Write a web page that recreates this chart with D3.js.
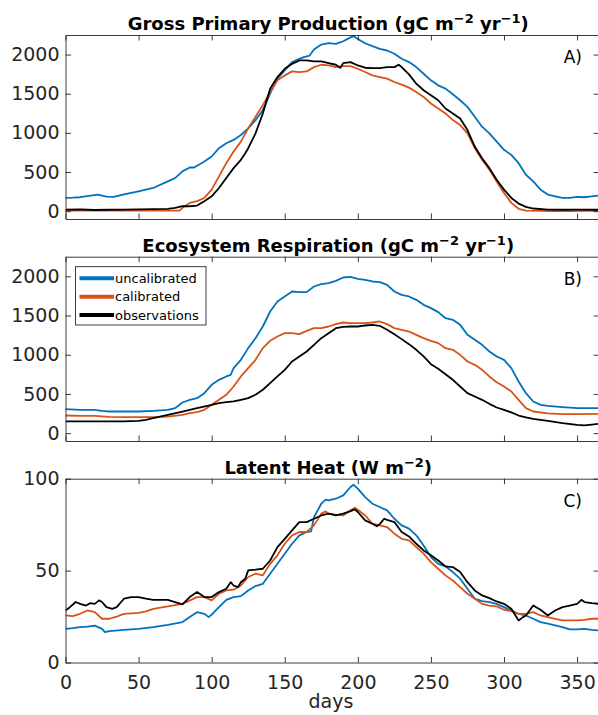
<!DOCTYPE html>
<html><head><meta charset="utf-8">
<script src="https://cdn.jsdelivr.net/npm/d3@7"></script>
<style>
html,body{margin:0;padding:0;background:#fff;}
svg{display:block;font-family:"DejaVu Sans",sans-serif;}
</style></head>
<body>
<svg id="chart" width="598" height="715"></svg>
<script>
// ---------- DATA (day, value) ----------
const seriesNames = ["uncalibrated", "calibrated", "observations"];
const seriesColors = ["#0072BD", "#D95319", "#000000"];
const panelTitles = [
  ["Gross Primary Production (gC m", "−2", " yr", "−1", ")"],
  ["Ecosystem Respiration (gC m", "−2", " yr", "−1", ")"],
  ["Latent Heat (W m", "−2", ")"]
];
const panelLetters = ["A)", "B)", "C)"];
const xTicks = [0, 50, 100, 150, 200, 250, 300, 350];
const yTicksFlux = [0, 500, 1000, 1500, 2000];
const yTicksLE = [0, 50, 100];

const gppUncal = [[0,170],[5,172],[10,178],[16,195],[22,210],[28,185],[33,182],[40,215],[50,254],[60,296],[70,380],[75,423],[80,508],[85,558],[88,558],[95,635],[100,698],[105,804],[110,867],[115,910],[120,973],[125,1058],[130,1163],[135,1290],[140,1502],[145,1692],[150,1798],[155,1904],[160,1946],[163,1967],[167,1988],[170,2064],[175,2128],[180,2145],[185,2136],[190,2170],[195,2220],[197,2233],[200,2200],[205,2145],[210,2107],[215,2073],[220,2052],[225,2010],[230,1946],[235,1904],[240,1840],[245,1755],[250,1671],[255,1607],[260,1565],[265,1493],[270,1417],[275,1332],[280,1206],[285,1079],[290,994],[295,888],[300,783],[305,719],[310,613],[315,465],[320,380],[325,275],[330,212],[335,190],[340,170],[345,170],[350,182],[355,178],[360,190],[365,199]];
const gppCal = [[0,8],[10,8],[20,6],[30,6],[40,6],[50,8],[60,6],[70,6],[78,8],[80,42],[85,106],[90,127],[95,169],[100,275],[105,444],[110,613],[115,761],[120,888],[125,1058],[130,1206],[135,1354],[140,1523],[145,1671],[150,1734],[155,1785],[160,1777],[165,1785],[170,1840],[175,1870],[180,1861],[185,1840],[190,1853],[195,1853],[200,1819],[205,1777],[210,1734],[215,1713],[220,1692],[225,1650],[230,1616],[235,1578],[240,1523],[245,1459],[250,1375],[255,1311],[260,1248],[265,1163],[270,1100],[275,994],[280,804],[285,656],[290,529],[295,380],[300,233],[305,106],[310,30],[315,8],[325,3],[335,2],[345,2],[355,3],[365,3]];
const gppObs = [[0,20],[10,22],[20,15],[30,18],[40,20],[50,22],[60,25],[70,30],[75,42],[80,63],[85,63],[90,72],[95,127],[100,190],[105,296],[110,423],[115,550],[120,656],[123,740],[125,804],[130,994],[135,1248],[140,1565],[145,1713],[150,1819],[155,1882],[160,1925],[165,1925],[170,1912],[175,1912],[180,1891],[185,1870],[188,1830],[190,1891],[195,1904],[200,1861],[205,1832],[210,1827],[215,1827],[220,1840],[225,1840],[228,1870],[230,1840],[235,1747],[240,1628],[245,1544],[250,1480],[255,1417],[260,1311],[265,1248],[270,1184],[275,1036],[280,825],[285,677],[290,550],[295,402],[300,275],[305,169],[310,97],[315,55],[320,34],[330,21],[340,18],[350,20],[365,18]];

const reUncal = [[0,306],[10,298],[20,298],[25,285],[30,276],[40,276],[50,276],[60,285],[70,298],[75,319],[80,391],[85,425],[90,446],[95,510],[100,616],[105,680],[110,723],[113,744],[115,829],[120,935],[125,1084],[130,1211],[135,1360],[140,1551],[145,1679],[150,1743],[155,1806],[160,1798],[165,1798],[170,1870],[175,1900],[180,1913],[185,1942],[190,1985],[195,1993],[200,1968],[205,1955],[210,1934],[215,1925],[220,1891],[225,1806],[230,1764],[235,1743],[240,1700],[245,1636],[250,1594],[255,1543],[260,1466],[265,1445],[270,1381],[275,1254],[280,1190],[285,1126],[290,1041],[295,978],[300,935],[305,829],[310,659],[315,510],[320,404],[325,361],[330,349],[340,332],[350,319],[365,319]];
const reCal = [[0,225],[10,221],[20,221],[30,208],[40,204],[50,204],[60,204],[70,212],[80,234],[85,255],[90,268],[95,298],[100,361],[105,425],[110,489],[115,595],[120,723],[125,829],[130,935],[135,1084],[140,1177],[145,1233],[150,1275],[155,1275],[160,1262],[165,1305],[170,1339],[175,1339],[180,1360],[185,1390],[190,1411],[195,1403],[200,1403],[205,1403],[210,1411],[215,1424],[220,1390],[225,1339],[230,1318],[235,1296],[240,1254],[245,1211],[250,1177],[255,1148],[260,1084],[265,1063],[270,999],[275,914],[280,871],[285,808],[290,723],[295,650],[300,595],[305,531],[310,425],[315,319],[320,276],[330,251],[340,242],[350,242],[365,246]];
const reObs = [[0,149],[10,149],[20,149],[30,149],[40,149],[50,157],[55,170],[60,191],[70,234],[80,276],[90,319],[100,361],[105,383],[110,395],[115,404],[120,425],[125,446],[130,489],[135,553],[140,638],[145,723],[150,808],[155,914],[160,978],[165,1041],[170,1126],[175,1211],[180,1275],[185,1339],[190,1356],[195,1360],[200,1360],[205,1373],[210,1381],[215,1369],[220,1318],[225,1262],[230,1199],[235,1135],[240,1063],[245,978],[250,880],[255,820],[260,752],[265,680],[270,595],[275,510],[280,468],[285,425],[290,374],[295,327],[300,298],[305,264],[310,225],[315,200],[320,183],[325,170],[330,157],[340,128],[350,106],[355,100],[360,110],[365,120]];

const leUncal = [[0,18.3],[5,18.7],[10,19.2],[15,19.5],[20,20.1],[25,18.3],[27,16.5],[30,17.1],[40,17.8],[50,18.3],[60,19.2],[70,20.5],[80,22.0],[85,24.7],[90,27.4],[95,26.5],[98,24.7],[100,26.1],[105,30.1],[110,34.1],[115,35.6],[120,36.1],[125,39.2],[130,41.6],[135,42.8],[140,48.3],[145,53.7],[150,59.2],[155,64.6],[160,69.2],[165,71.0],[168,71.3],[170,79.1],[175,86.4],[178,88.6],[180,88.2],[185,89.1],[190,90.9],[195,95.5],[197,96.7],[200,94.6],[205,90.0],[210,86.4],[215,84.6],[220,82.8],[225,78.2],[230,74.6],[235,72.8],[240,69.2],[245,63.7],[250,57.4],[255,53.7],[260,52.3],[265,49.2],[270,45.6],[275,40.1],[280,34.7],[285,33.4],[290,32.9],[295,31.9],[300,30.1],[305,28.3],[310,26.5],[315,25.6],[320,23.8],[325,22.0],[330,21.1],[340,19.2],[345,18.0],[350,18.0],[355,18.3],[360,17.8],[365,17.4]];
const leCal = [[0,25.6],[5,25.2],[10,26.5],[15,28.3],[20,27.4],[25,23.8],[30,23.8],[35,25.0],[40,26.5],[50,27.0],[55,27.8],[60,29.2],[70,30.5],[80,31.9],[90,35.6],[95,35.6],[100,33.8],[105,37.4],[110,39.2],[115,39.6],[120,41.9],[125,46.5],[130,48.3],[135,47.4],[140,53.7],[145,58.3],[150,64.6],[155,69.2],[160,71.0],[165,71.0],[170,74.6],[175,81.0],[178,82.2],[180,81.0],[185,80.4],[190,80.0],[195,82.8],[198,84.2],[200,83.1],[205,80.0],[210,75.5],[215,74.6],[220,73.7],[225,70.1],[230,67.3],[235,66.4],[240,62.8],[245,59.2],[250,54.6],[255,51.0],[260,47.4],[265,44.6],[270,41.0],[275,37.4],[280,34.7],[285,31.9],[290,31.0],[295,30.5],[300,28.7],[305,28.0],[310,26.5],[315,26.5],[320,27.4],[325,25.6],[330,24.7],[335,23.8],[340,22.9],[345,22.9],[350,22.9],[355,23.2],[360,23.8],[365,23.8]];
const leObs = [[0,28.3],[3,30.1],[7,32.9],[10,31.9],[14,31.0],[17,32.3],[20,31.9],[23,33.8],[25,32.9],[28,30.1],[32,29.2],[35,30.1],[40,34.7],[45,35.6],[50,35.6],[55,34.7],[60,34.1],[70,34.1],[75,32.9],[80,31.6],[85,35.6],[90,38.3],[95,35.6],[100,35.6],[105,38.3],[110,40.1],[113,43.7],[115,41.9],[118,41.0],[120,43.7],[123,45.6],[125,50.1],[130,50.5],[135,51.0],[140,55.5],[145,62.8],[150,67.3],[155,71.9],[160,76.4],[165,76.4],[170,78.2],[175,80.0],[180,81.0],[185,80.0],[190,81.0],[195,82.4],[198,83.3],[200,81.9],[205,77.3],[210,75.5],[213,74.1],[215,75.3],[218,78.2],[220,77.6],[225,76.4],[230,71.0],[235,68.6],[240,64.6],[245,61.0],[250,58.3],[255,55.5],[260,52.3],[265,51.9],[270,49.2],[275,43.7],[280,39.2],[285,36.5],[290,35.0],[295,33.2],[300,31.9],[305,29.2],[310,22.9],[313,24.7],[315,25.6],[320,31.0],[325,28.7],[330,25.6],[335,28.3],[340,30.1],[345,31.0],[350,31.9],[353,34.1],[355,32.9],[360,32.3],[365,31.9]];

// ---------- LAYOUT ----------
const svg = d3.select("#chart");
const left = 65.5, right = 599;
const panels = [
  {top: 35, bottom: 219, ydom: [-100, 2250], yticks: yTicksFlux, series: [gppUncal, gppCal, gppObs]},
  {top: 256.7, bottom: 441, ydom: [-100, 2250], yticks: yTicksFlux, series: [reUncal, reCal, reObs]},
  {top: 478.7, bottom: 662.5, ydom: [0, 100], yticks: yTicksLE, series: [leUncal, leCal, leObs]}
];
const x = d3.scaleLinear().domain([0, 365]).range([left, right]);
const axisColor = "#262626";
const fmt = d3.format("d");

panels.forEach((p, i) => {
  const y = d3.scaleLinear().domain(p.ydom).range([p.bottom, p.top]);
  const g = svg.append("g");
  const clipId = "clip" + i;
  svg.append("clipPath").attr("id", clipId).append("rect")
    .attr("x", left).attr("y", p.top).attr("width", right - left).attr("height", p.bottom - p.top);

  // lines
  const line = d3.line().x(d => x(d[0])).y(d => y(d[1]));
  p.series.forEach((s, k) => {
    g.append("path").datum(s).attr("d", line)
      .attr("fill", "none").attr("stroke", seriesColors[k]).attr("stroke-width", 1.8)
      .attr("stroke-linejoin", "round").attr("clip-path", `url(#${clipId})`);
  });

  // axes (ticks inside, box)
  const tl = 5.5;
  const bottomAxis = d3.axisBottom(x).tickValues(xTicks).tickSize(-tl).tickSizeOuter(0)
    .tickFormat(i === 2 ? fmt : () => "");
  const topAxis = d3.axisTop(x).tickValues(xTicks).tickSize(-tl).tickSizeOuter(0).tickFormat(() => "");
  const leftAxis = d3.axisLeft(y).tickValues(p.yticks).tickSize(-tl).tickSizeOuter(0).tickPadding(6).tickFormat(fmt);
  const rightAxis = d3.axisRight(y).tickValues(p.yticks).tickSize(-tl).tickSizeOuter(0).tickFormat(() => "");

  const ax = [
    g.append("g").attr("transform", `translate(0,${p.bottom})`).call(bottomAxis),
    g.append("g").attr("transform", `translate(0,${p.top})`).call(topAxis),
    g.append("g").attr("transform", `translate(${left},0)`).call(leftAxis),
    g.append("g").attr("transform", `translate(${right},0)`).call(rightAxis)
  ];
  ax.forEach(a => {
    a.select(".domain").attr("stroke", axisColor).attr("stroke-width", 0.9);
    a.selectAll(".tick line").attr("stroke", axisColor).attr("stroke-width", 0.9);
    a.selectAll(".tick text").attr("fill", axisColor).style("font-size", "19px")
      .style("font-family", "'DejaVu Sans', sans-serif");
  });
  ax[0].selectAll(".tick text").attr("dy", "0.95em").attr("y", 8);

  // title
  const t = svg.append("text").attr("x", (left + right) / 2 - 4).attr("y", p.top - 5)
    .attr("text-anchor", "middle").attr("font-weight", "bold").attr("font-size", 18).attr("fill", "#000");
  panelTitles[i].forEach((part, j) => {
    const sup = j % 2 === 1;
    const ts = t.append("tspan").text(part);
    if (sup) ts.attr("font-size", 13).attr("dy", -7);
    else if (j > 0) ts.attr("dy", 7);
  });

  // panel letter
  svg.append("text").attr("x", 582).attr("y", p.top + 28).attr("text-anchor", "end")
    .attr("font-size", 17).attr("fill", "#000").text(panelLetters[i]);
});

// x label
svg.append("text").attr("x", 331).attr("y", 708).attr("text-anchor", "middle")
  .attr("font-size", 19).attr("fill", axisColor).text("days");

// legend in panel B
const lg = svg.append("g");
lg.append("rect").attr("x", 75.5).attr("y", 266.7).attr("width", 130.5).attr("height", 58.3)
  .attr("fill", "#fff").attr("stroke", axisColor).attr("stroke-width", 0.9);
seriesNames.forEach((n, k) => {
  const yy = 278.3 + k * 18.35;
  lg.append("line").attr("x1", 79.5).attr("x2", 114).attr("y1", yy).attr("y2", yy)
    .attr("stroke", seriesColors[k]).attr("stroke-width", 4);
  lg.append("text").attr("x", 115).attr("y", yy).attr("dy", "0.35em")
    .attr("font-size", 13).attr("fill", "#000").text(n);
});
</script>
</body></html>
